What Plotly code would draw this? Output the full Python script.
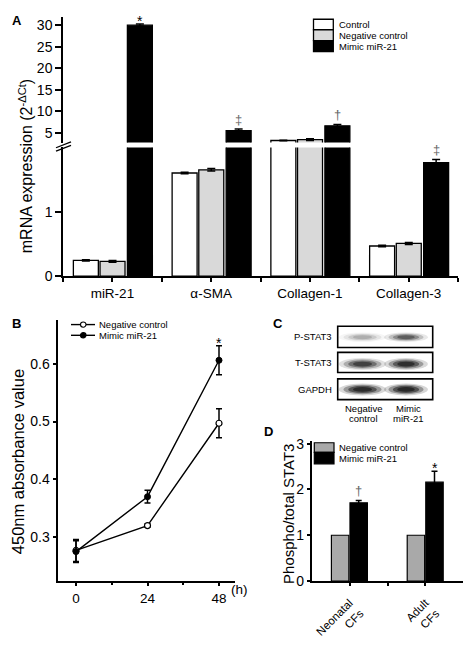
import plotly.graph_objects as go

# Browser body has an 8px default margin: the figure is placed at (8, 8)
OFF = 8
W, H = 474 - 2 * OFF, 656 - 2 * OFF


def px(x):
    return (x - OFF) / W


def py(y):
    return 1 - (y - OFF) / H


FONT = "Liberation Sans, Arial, sans-serif"

# ---------------- Panel A data ----------------
genes = ["miR-21", "α-SMA", "Collagen-1", "Collagen-3"]
a_control = [0.245, 1.61, 3.2, 0.47]
a_control_err = [0.01, 0.01, 0.08, 0.01]
a_negative = [0.23, 1.66, 3.4, 0.51]
a_negative_err = [0.015, 0.02, 0.2, 0.015]
a_mimic = [30.0, 5.5, 6.6, 1.77]
a_mimic_err = [0.25, 0.35, 0.3, 0.05]
a_marks = ["*", "‡", "†", "‡"]
a_series = ["Control", "Negative control", "Mimic miR-21"]

# ---------------- Panel B data ----------------
hours = [0, 24, 48]
b_negative = [0.277, 0.320, 0.497]
b_negative_err = [0.019, 0.003, 0.025]
b_mimic = [0.275, 0.370, 0.606]
b_mimic_err = [0.019, 0.011, 0.025]
b_series = ["Negative control", "Mimic miR-21"]

# ---------------- Panel C data ----------------
blot_rows = ["P-STAT3", "T-STAT3", "GAPDH"]
blot_cols = [["Negative", "control"], ["Mimic", "miR-21"]]
blot_intensity = [[0.22, 0.55], [0.72, 0.88], [0.92, 0.95]]

# ---------------- Panel D data ----------------
cells = ["Neonatal<br>CFs", "Adult<br>CFs"]
d_negative = [1.0, 1.0]
d_mimic = [1.71, 2.16]
d_mimic_err = [0.05, 0.24]
d_marks = ["†", "*"]
d_series = ["Negative control", "Mimic miR-21"]

fig = go.Figure()

# ---- Panel A bars (drawn on both broken-axis segments) ----
a_vals = [a_control, a_negative, a_mimic]
a_errs = [a_control_err, a_negative_err, a_mimic_err]
a_colors = ["white", "#d9d9d9", "black"]
a_offsets = [-0.395, -0.125, 0.152]
a_width = 0.253
xa = list(range(len(genes)))
for yax in ["y", "y2"]:
    for name, vals, errs, col, off in zip(a_series, a_vals, a_errs, a_colors, a_offsets):
        fig.add_trace(go.Bar(
            x=xa, y=vals, name=name, xaxis="x", yaxis=yax,
            offset=off, width=a_width,
            marker=dict(color=col, line=dict(color="black", width=1.3)),
            error_y=dict(type="data", array=errs, color="black", thickness=1.5, width=4),
            showlegend=False,
        ))

# ---- Panel B lines ----
fig.add_trace(go.Scatter(
    x=hours, y=b_negative, name=b_series[0], xaxis="x2", yaxis="y3",
    mode="lines+markers",
    line=dict(color="black", width=1.4),
    marker=dict(symbol="circle", size=6, color="white", line=dict(color="black", width=1.2)),
    error_y=dict(type="data", array=b_negative_err, color="black", thickness=1.5, width=3),
    showlegend=False,
))
fig.add_trace(go.Scatter(
    x=hours, y=b_mimic, name=b_series[1], xaxis="x2", yaxis="y3",
    mode="lines+markers",
    line=dict(color="black", width=1.4),
    marker=dict(symbol="circle", size=6, color="black", line=dict(color="black", width=1)),
    error_y=dict(type="data", array=b_mimic_err, color="black", thickness=1.5, width=3),
    showlegend=False,
))

# ---- Panel D bars ----
xd = list(range(len(cells)))
fig.add_trace(go.Bar(
    x=xd, y=d_negative, name=d_series[0], xaxis="x3", yaxis="y4",
    offset=-0.24, width=0.23,
    marker=dict(color="#a9a9a9", line=dict(color="black", width=1.2)),
    showlegend=False,
))
fig.add_trace(go.Bar(
    x=xd, y=d_mimic, name=d_series[1], xaxis="x3", yaxis="y4",
    offset=0.005, width=0.23,
    marker=dict(color="black", line=dict(color="black", width=1.2)),
    error_y=dict(type="data", array=d_mimic_err, color="black", thickness=1.5, width=3),
    showlegend=False,
))

axis_common = dict(showline=True, linecolor="black", linewidth=1.5, showgrid=False,
                   zeroline=False, ticks="outside", tickcolor="black", tickwidth=1.5)


def minor(vals, length):
    return dict(tickvals=vals, ticks="outside", ticklen=length, tickwidth=1.5,
                tickcolor="black", showgrid=False)


a_bounds = [i - 0.5 for i in range(len(genes) + 1)]

fig.update_layout(
    width=W, height=H,
    margin=dict(l=0, r=0, t=0, b=0),
    paper_bgcolor="white", plot_bgcolor="white",
    font=dict(family=FONT, color="black"),
    showlegend=False,
    barmode="overlay",
    xaxis=dict(domain=[px(63), px(458)], range=[-0.5, 3.5], anchor="y",
               tickvals=xa, ticktext=genes, ticklen=4, minor=minor(a_bounds, 4),
               tickfont=dict(size=13.5), **axis_common),
    yaxis=dict(domain=[py(282.7), py(148.3)], range=[0, 2.01], anchor="x",
               tickvals=[0, 1], ticklen=6, tickfont=dict(size=14), **axis_common),
    yaxis2=dict(domain=[py(143.3), py(12)], range=[2.71, 31.93], anchor="x",
                tickvals=[5, 10, 15, 20, 25, 30], ticklen=6, tickfont=dict(size=14), **axis_common),
    xaxis2=dict(domain=[px(58.3), px(235)], range=[-5.94, 53.37], anchor="y3",
                tickvals=hours, ticklen=4, minor=minor([12, 36], 3),
                tickfont=dict(size=13.5), **axis_common),
    yaxis3=dict(domain=[py(600.7), py(328.3)], range=[0.2247, 0.676], anchor="x2",
                tickvals=[0.3, 0.4, 0.5, 0.6], ticklen=4, tickfont=dict(size=14), **axis_common),
    xaxis3=dict(domain=[px(311.7), px(463.3)], range=[-0.5, 1.5], anchor="y4",
                tickvals=xd, ticktext=cells, tickangle=-45, minor=minor([0.5], 3),
                ticklen=3, ticklabelstandoff=6, tickfont=dict(size=11.5), **axis_common),
    yaxis4=dict(domain=[py(601), py(455)], range=[0, 3.057], anchor="x3",
                tickvals=[0, 1, 2, 3], ticklen=3, tickfont=dict(size=14), **axis_common),
)

shapes = []
annotations = []


def text(x, y, s, size=9.5, xanchor="left", yanchor="middle", bold=False, color="black", angle=0):
    annotations.append(dict(
        x=px(x), y=py(y), xref="paper", yref="paper", text=("<b>%s</b>" % s) if bold else s,
        showarrow=False, xanchor=xanchor, yanchor=yanchor, textangle=angle,
        font=dict(family=FONT, size=size, color=color),
    ))


# Panel letters
text(10, 16, "A", size=13, bold=True)
text(10, 332, "B", size=13, bold=True)
text(271, 332, "C", size=13, bold=True)
text(262, 445, "D", size=13, bold=True)

# Axis titles
text(26, 168, "mRNA expression (2<sup>-ΔCt</sup>)", size=16, xanchor="center", angle=-90)
text(18, 477, "450nm absorbance value", size=16.5, xanchor="center", angle=-90)
text(289, 531, "Phospho/total STAT3", size=15, xanchor="center", angle=-90)
text(229, 610, "(h)", size=13.5, xanchor="left")

# Significance marks, panel A
a_mark_axis = ["y2", "y2", "y2", "y"]
for i, (m, ax) in enumerate(zip(a_marks, a_mark_axis)):
    star = m == "*"
    annotations.append(dict(
        x=i + a_offsets[2] + a_width / 2, y=a_mimic[i] + a_mimic_err[i], xref="x", yref=ax,
        text=m, showarrow=False, xanchor="center", yanchor="middle",
        yshift=3 if star else 10,
        font=dict(family=FONT, size=14 if star else 13, color="black" if star else "#666666"),
    ))

# Panel B mark
annotations.append(dict(
    x=hours[2], y=b_mimic[2] + b_mimic_err[2], xref="x2", yref="y3", text="*",
    showarrow=False, xanchor="center", yanchor="middle", yshift=3,
    font=dict(family=FONT, size=14, color="black"),
))

# Panel D marks
for i, m in enumerate(d_marks):
    star = m == "*"
    annotations.append(dict(
        x=i + 0.12, y=d_mimic[i] + d_mimic_err[i], xref="x3", yref="y4", text=m,
        showarrow=False, xanchor="center", yanchor="middle",
        yshift=3 if star else 10,
        font=dict(family=FONT, size=14 if star else 13, color="black" if star else "#666666"),
    ))

# Axis break marks on panel A
for dy in (0, 3.6):
    shapes.append(dict(type="line", xref="paper", yref="paper",
                       x0=px(56), y0=py(148.7 + dy), x1=px(71), y1=py(142.5 + dy),
                       line=dict(color="black", width=1.3)))

# Legend panel A
a_leg_rows = [(14.5, 25.5), (25.5, 36.8), (36.8, 48.3)]
for (y0, y1), col, name in zip(a_leg_rows, a_colors, a_series):
    shapes.append(dict(type="rect", xref="paper", yref="paper", x0=px(313.5), x1=px(333.3),
                       y0=py(y1), y1=py(y0), fillcolor=col, line=dict(color="black", width=1.3)))
    text(336.5, (y0 + y1) / 2, name, size=9.5)

# Legend panel B
b_leg_rows = [333.3, 344.5]
for yy, fill, name in zip(b_leg_rows, ["white", "black"], b_series):
    shapes.append(dict(type="line", xref="paper", yref="paper", x0=px(71), x1=px(95),
                       y0=py(yy), y1=py(yy), line=dict(color="black", width=1.4)))
    shapes.append(dict(type="circle", xref="paper", yref="paper", x0=px(80.5), x1=px(86),
                       y0=py(yy + 2.75), y1=py(yy - 2.75), fillcolor=fill,
                       line=dict(color="black", width=1.1)))
    text(97, yy, name, size=9.5)

# Legend panel D
d_leg_rows = [(456.7, 466.7), (466.7, 478.7)]
for (y0, y1), col, name in zip(d_leg_rows, ["#a9a9a9", "black"], d_series):
    shapes.append(dict(type="rect", xref="paper", yref="paper", x0=px(314.3), x1=px(334),
                       y0=py(y1), y1=py(y0), fillcolor=col, line=dict(color="black", width=1.2)))
    text(337, (y0 + y1) / 2, name, size=9.5)

# Panel C western blot
box_rows = [(335, 357.3), (362.3, 383.3), (390, 411.7)]
band_cy = [346.5, 374.5, 401]
band_h = [8, 10, 10]
lane_cx = [362.5, 406]
lane_w = [38, 35]
for r, name in enumerate(blot_rows):
    y0, y1 = box_rows[r]
    shapes.append(dict(type="rect", xref="paper", yref="paper", x0=px(337.7), x1=px(432.7),
                       y0=py(y1), y1=py(y0), fillcolor="white",
                       line=dict(color="black", width=1.6), layer="below"))
    text(334, (y0 + y1) / 2, name, size=9.5, xanchor="right")
    for c in range(2):
        inten = blot_intensity[r][c]
        cx, w, cy, h = lane_cx[c], lane_w[c], band_cy[r], band_h[r]
        for scale, alpha in ((1.25, 0.18), (1.0, 0.35), (0.75, 0.55), (0.5, 0.7)):
            shapes.append(dict(
                type="circle", xref="paper", yref="paper",
                x0=px(cx - w * scale / 2), x1=px(cx + w * scale / 2),
                y0=py(cy + h * scale / 2), y1=py(cy - h * scale / 2),
                fillcolor="rgba(20,20,20,%.3f)" % (alpha * inten), line=dict(width=0),
                layer="above",
            ))

for c, lines in enumerate(blot_cols):
    text(lane_cx[c] + (1 if c == 0 else 2), 420.7, lines[0], size=9.5, xanchor="center")
    text(lane_cx[c] + (1 if c == 0 else 2), 431.3, lines[1], size=9.5, xanchor="center")

fig.update_layout(shapes=shapes, annotations=annotations)

fig.write_html("out.html")
